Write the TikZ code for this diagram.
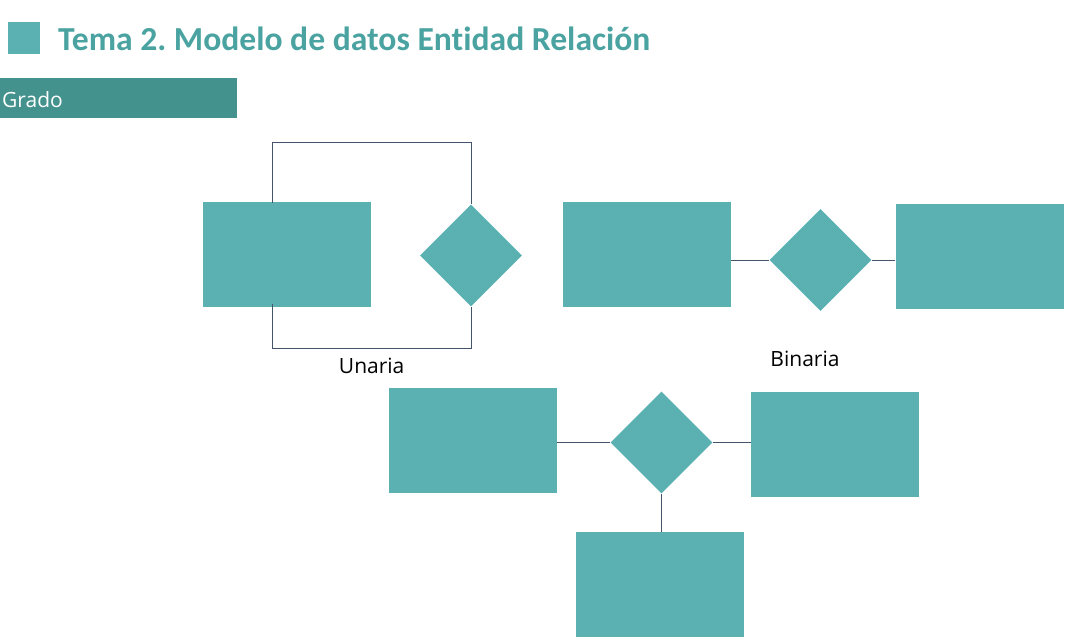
\documentclass[tikz,border=0pt]{standalone}
\usepackage{fontspec}
\setmainfont{Carlito}[Ligatures={NoCommon,NoRare}]
\newfontfamily\lblfont{Open Sans}
\frenchspacing
\usetikzlibrary{shapes.geometric}
\definecolor{teal1}{HTML}{5BB1B2}
\definecolor{titlec}{HTML}{4AA3A1}
\definecolor{barc}{HTML}{44928E}
\definecolor{linec}{HTML}{44546A}
\tikzset{
  entity/.style={fill=teal1, draw=none, minimum width=168pt, minimum height=105pt, inner sep=0pt},
  rel/.style={diamond, aspect=1, fill=teal1, draw=none, minimum size=102pt, inner sep=0pt},
  conn/.style={draw=linec, line width=1pt},
  lbl/.style={font=\lblfont\fontsize{21}{25}\selectfont, text=black, inner sep=0pt}
}
\begin{document}
\begin{tikzpicture}[x=1pt,y=-1pt]
\useasboundingbox (0,0) rectangle (1075,643);
% header
\node[fill=teal1, minimum size=32pt, inner sep=0pt, anchor=north west] (sq) at (8,22) {};
\node[anchor=base west, inner sep=0pt, text=titlec, font=\fontsize{33.6}{40}\selectfont\bfseries] (title) at (58,50) {Tema 2. Modelo de datos Entidad Relación};
\node[fill=barc, minimum width=237pt, minimum height=40pt, inner sep=0pt, anchor=north west] (bar) at (0,78) {};
\node[anchor=base west, inner sep=0pt, text=white, font=\lblfont\fontsize{21}{25}\selectfont] (grado) at (2,107.5) {Grado};
% unaria
\node[entity] (u) at (287,254.5) {};
\node[rel] (ud) at (471,255.5) {};
\coordinate (ut) at (272,142);
\coordinate (ub) at (272,348);
\draw[conn] ([yshift=-1pt]u.north -| ut) -- (ut) -| (ud.north);
\draw[conn] ([yshift=3pt]u.south -| ub) -- (ub) -| (ud.south);
\node[lbl, anchor=base] (unaria) at (371.7,373.3) {Unaria};
% binaria
\node[entity] (b1) at (647,254.5) {};
\node[rel] (bd) at (820.5,260) {};
\node[entity] (b2) at (979.5,256) {};
\draw[conn] (b1.east |- bd) -- (bd.west);
\draw[conn] (bd.east) -- (b2.west |- bd);
\node[lbl, anchor=base] (binaria) at (805,366.7) {Binaria};
% ternaria
\node[entity] (t1) at (472.5,440.5) {};
\node[rel] (td) at (661.5,442.5) {};
\node[entity] (t2) at (835,444) {};
\node[entity] (t3) at (660,584.5) {};
\draw[conn] (t1.east |- td) -- (td.west);
\draw[conn] (td.east) -- (t2.west |- td);
\draw[conn] (td.south) -- (t3.north -| td);
\end{tikzpicture}
\end{document}
